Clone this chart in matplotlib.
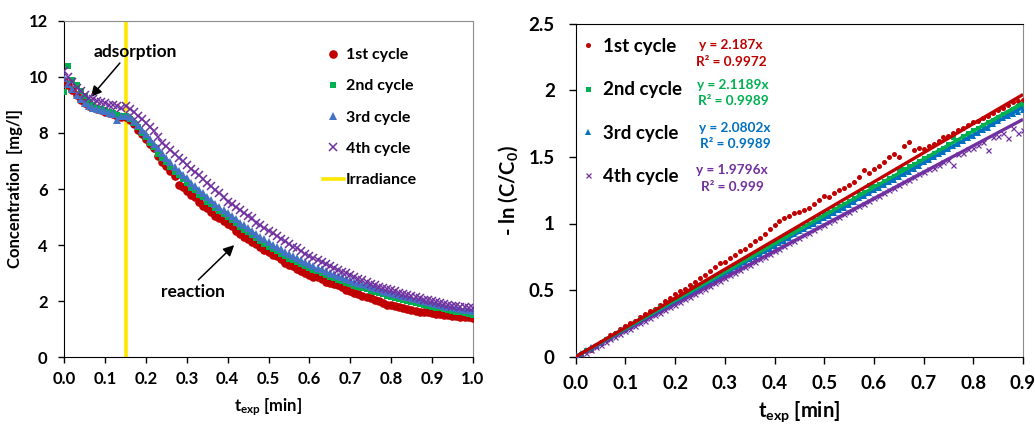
import matplotlib
matplotlib.use('Agg')
import matplotlib.pyplot as plt
from matplotlib.lines import Line2D

plt.rcParams['font.family'] = ['Lato', 'DejaVu Sans']
plt.rcParams['font.weight'] = 'bold'
plt.rcParams['mathtext.fontset'] = 'custom'
plt.rcParams['mathtext.rm'] = 'Lato:bold'
plt.rcParams['mathtext.bf'] = 'Lato:bold'
plt.rcParams['mathtext.it'] = 'Lato:bold'

# ---------------- data ----------------
cycle_labels = ['1st cycle', '2nd cycle', '3rd cycle', '4th cycle']

t_left = [0.00, 0.01, 0.02, 0.03, 0.04, 0.05, 0.06, 0.07, 0.08, 0.09,
          0.10, 0.11, 0.12, 0.13, 0.14, 0.15, 0.16, 0.17, 0.18, 0.19,
          0.20, 0.21, 0.22, 0.23, 0.24, 0.25, 0.26, 0.27, 0.28, 0.29,
          0.30, 0.31, 0.32, 0.33, 0.34, 0.35, 0.36, 0.37, 0.38, 0.39,
          0.40, 0.41, 0.42, 0.43, 0.44, 0.45, 0.46, 0.47, 0.48, 0.49,
          0.50, 0.51, 0.52, 0.53, 0.54, 0.55, 0.56, 0.57, 0.58, 0.59,
          0.60, 0.61, 0.62, 0.63, 0.64, 0.65, 0.66, 0.67, 0.68, 0.69,
          0.70, 0.71, 0.72, 0.73, 0.74, 0.75, 0.76, 0.77, 0.78, 0.79,
          0.80, 0.81, 0.82, 0.83, 0.84, 0.85, 0.86, 0.87, 0.88, 0.89,
          0.90, 0.91, 0.92, 0.93, 0.94, 0.95, 0.96, 0.97, 0.98, 0.99, 1.00]

conc_1st = [9.85, 9.70, 9.52, 9.35, 9.18, 9.05, 8.95, 8.92, 8.84, 8.80,
            8.76, 8.70, 8.66, 8.60, 8.55, 8.55, 8.45, 8.30, 8.12, 7.95,
            7.80, 7.62, 7.45, 7.18, 6.95, 6.82, 6.65, 6.45, 6.15, 6.06,
            5.92, 5.80, 5.72, 5.55, 5.40, 5.32, 5.18, 5.05, 4.96, 4.85,
            4.76, 4.68, 4.52, 4.40, 4.28, 4.22, 4.12, 4.05, 3.95, 3.84,
            3.76, 3.64, 3.60, 3.50, 3.36, 3.30, 3.26, 3.14, 3.08, 3.00,
            2.92, 2.88, 2.86, 2.80, 2.68, 2.66, 2.60, 2.56, 2.50, 2.40,
            2.36, 2.30, 2.26, 2.20, 2.14, 2.10, 2.06, 2.02, 1.94, 1.86,
            1.85, 1.84, 1.78, 1.75, 1.72, 1.68, 1.66, 1.63, 1.62, 1.60,
            1.57, 1.56, 1.54, 1.52, 1.50, 1.48, 1.46, 1.45, 1.43, 1.42, 1.40]

conc_2nd = [9.45, 10.40, 9.90, 9.70, 9.50, 9.30, 9.10, 9.00, 8.90, 8.85,
            8.80, 8.75, 8.70, 8.65, 8.60, 8.60, 8.50, 8.35, 8.20, 8.00,
            7.85, 7.65, 7.50, 7.25, 7.10, 6.95, 6.80, 6.62, 6.50, 6.35,
            6.20, 6.05, 5.95, 5.78, 5.70, 5.55, 5.45, 5.32, 5.20, 5.10,
            5.00, 4.88, 4.78, 4.65, 4.55, 4.45, 4.35, 4.25, 4.15, 4.05,
            3.95, 3.86, 3.78, 3.70, 3.62, 3.52, 3.48, 3.40, 3.32, 3.25,
            3.20, 3.12, 3.06, 3.00, 2.94, 2.88, 2.82, 2.77, 2.72, 2.66,
            2.60, 2.55, 2.50, 2.46, 2.42, 2.37, 2.32, 2.28, 2.24, 2.20,
            2.16, 2.12, 2.08, 2.04, 2.00, 1.96, 1.93, 1.90, 1.86, 1.83,
            1.80, 1.77, 1.74, 1.71, 1.68, 1.65, 1.62, 1.60, 1.57, 1.55, 1.52]

conc_3rd = [9.95, 9.75, 9.55, 9.35, 9.20, 9.05, 8.95, 8.88, 8.85, 8.82,
            8.78, 8.72, 8.68, 8.45, 8.62, 8.60, 8.55, 8.42, 8.28, 8.10,
            7.95, 7.80, 7.62, 7.45, 7.28, 7.10, 6.95, 6.80, 6.65, 6.50,
            6.38, 6.22, 6.10, 5.98, 5.85, 5.72, 5.60, 5.48, 5.36, 5.25,
            5.14, 5.02, 4.92, 4.80, 4.70, 4.60, 4.50, 4.40, 4.30, 4.20,
            4.10, 4.02, 3.93, 3.85, 3.77, 3.69, 3.62, 3.54, 3.47, 3.40,
            3.33, 3.27, 3.20, 3.14, 3.08, 3.02, 2.96, 2.90, 2.85, 2.80,
            2.75, 2.70, 2.65, 2.60, 2.56, 2.51, 2.47, 2.42, 2.38, 2.34,
            2.30, 2.26, 2.22, 2.18, 2.14, 2.10, 2.07, 2.03, 2.00, 1.97,
            1.93, 1.90, 1.87, 1.84, 1.81, 1.78, 1.76, 1.73, 1.70, 1.68, 1.65]

conc_4th = [10.20, 10.00, 9.80, 9.60, 9.50, 9.35, 9.25, 9.20, 9.15, 9.10,
            9.05, 9.00, 9.00, 8.95, 8.90, 8.95, 8.85, 8.75, 8.60, 8.50,
            8.35, 8.20, 8.05, 7.85, 7.65, 7.52, 7.40, 7.25, 7.10, 7.00,
            6.85, 6.70, 6.60, 6.50, 6.35, 6.20, 6.10, 5.95, 5.85, 5.70,
            5.55, 5.45, 5.35, 5.25, 5.15, 5.05, 4.95, 4.80, 4.70, 4.60,
            4.50, 4.42, 4.32, 4.22, 4.15, 4.05, 3.95, 3.88, 3.78, 3.70,
            3.62, 3.55, 3.48, 3.40, 3.32, 3.25, 3.18, 3.12, 3.05, 3.00,
            2.92, 2.86, 2.80, 2.75, 2.70, 2.62, 2.58, 2.52, 2.48, 2.44,
            2.40, 2.35, 2.30, 2.27, 2.22, 2.18, 2.14, 2.10, 2.06, 2.03,
            2.00, 1.96, 1.93, 1.90, 1.87, 1.84, 1.82, 1.80, 1.78, 1.76, 1.74]

irradiance_start = 0.15

t_right = [0.00, 0.01, 0.02, 0.03, 0.04, 0.05, 0.06, 0.07, 0.08, 0.09,
           0.10, 0.11, 0.12, 0.13, 0.14, 0.15, 0.16, 0.17, 0.18, 0.19,
           0.20, 0.21, 0.22, 0.23, 0.24, 0.25, 0.26, 0.27, 0.28, 0.29,
           0.30, 0.31, 0.32, 0.33, 0.34, 0.35, 0.36, 0.37, 0.38, 0.39,
           0.40, 0.41, 0.42, 0.43, 0.44, 0.45, 0.46, 0.47, 0.48, 0.49,
           0.50, 0.51, 0.52, 0.53, 0.54, 0.55, 0.56, 0.57, 0.58, 0.59,
           0.60, 0.61, 0.62, 0.63, 0.64, 0.65, 0.66, 0.67, 0.68, 0.69,
           0.70, 0.71, 0.72, 0.73, 0.74, 0.75, 0.76, 0.77, 0.78, 0.79,
           0.80, 0.81, 0.82, 0.83, 0.84, 0.85, 0.86, 0.87, 0.88, 0.89, 0.90]

lnc_1st = [0.00, 0.02, 0.04, 0.05, 0.09, 0.11, 0.13, 0.16, 0.18, 0.21,
           0.23, 0.25, 0.27, 0.30, 0.32, 0.34, 0.36, 0.39, 0.42, 0.44,
           0.47, 0.49, 0.51, 0.54, 0.56, 0.59, 0.61, 0.64, 0.67, 0.70,
           0.71, 0.74, 0.76, 0.79, 0.81, 0.84, 0.87, 0.89, 0.92, 0.96,
           0.99, 1.02, 1.04, 1.06, 1.08, 1.09, 1.10, 1.12, 1.15, 1.18,
           1.21, 1.20, 1.23, 1.25, 1.27, 1.29, 1.31, 1.35, 1.40, 1.38,
           1.41, 1.43, 1.46, 1.50, 1.52, 1.50, 1.58, 1.61, 1.55, 1.57,
           1.56, 1.58, 1.60, 1.62, 1.65, 1.66, 1.68, 1.70, 1.72, 1.74,
           1.76, 1.77, 1.79, 1.81, 1.83, 1.85, 1.87, 1.89, 1.91, 1.92, 1.93]

lnc_2nd = [0.00, 0.02, 0.05, 0.06, 0.08, 0.10, 0.13, 0.15, 0.17, 0.19,
           0.21, 0.23, 0.26, 0.28, 0.30, 0.32, 0.35, 0.37, 0.38, 0.41,
           0.43, 0.45, 0.47, 0.49, 0.52, 0.54, 0.56, 0.58, 0.60, 0.62,
           0.64, 0.66, 0.68, 0.71, 0.73, 0.75, 0.77, 0.79, 0.81, 0.83,
           0.86, 0.88, 0.90, 0.92, 0.94, 0.96, 0.98, 1.00, 1.03, 1.05,
           1.07, 1.09, 1.11, 1.13, 1.15, 1.17, 1.19, 1.22, 1.24, 1.29,
           1.28, 1.30, 1.32, 1.34, 1.36, 1.41, 1.41, 1.43, 1.45, 1.47,
           1.49, 1.51, 1.53, 1.55, 1.57, 1.60, 1.65, 1.63, 1.66, 1.68,
           1.70, 1.72, 1.74, 1.76, 1.78, 1.80, 1.82, 1.84, 1.86, 1.88, 1.89]

lnc_3rd = [0.01, 0.03, 0.05, 0.07, 0.08, 0.10, 0.13, 0.14, 0.17, 0.19,
           0.21, 0.23, 0.25, 0.27, 0.29, 0.31, 0.33, 0.35, 0.37, 0.39,
           0.42, 0.44, 0.46, 0.48, 0.50, 0.52, 0.54, 0.56, 0.58, 0.60,
           0.62, 0.64, 0.67, 0.69, 0.71, 0.73, 0.75, 0.77, 0.79, 0.81,
           0.83, 0.85, 0.87, 0.89, 0.92, 0.94, 0.96, 0.98, 1.00, 1.02,
           1.04, 1.06, 1.08, 1.10, 1.12, 1.14, 1.16, 1.19, 1.21, 1.23,
           1.25, 1.27, 1.29, 1.31, 1.33, 1.35, 1.37, 1.39, 1.41, 1.43,
           1.46, 1.48, 1.50, 1.52, 1.54, 1.56, 1.58, 1.60, 1.62, 1.64,
           1.66, 1.68, 1.70, 1.72, 1.75, 1.77, 1.79, 1.81, 1.82, 1.84, 1.85]

lnc_4th = [0.00, 0.02, 0.03, 0.05, 0.07, 0.09, 0.11, 0.13, 0.15, 0.17,
           0.19, 0.21, 0.23, 0.25, 0.27, 0.29, 0.31, 0.33, 0.35, 0.37,
           0.39, 0.41, 0.43, 0.45, 0.47, 0.49, 0.51, 0.53, 0.55, 0.57,
           0.59, 0.61, 0.63, 0.65, 0.67, 0.69, 0.71, 0.73, 0.75, 0.77,
           0.79, 0.81, 0.83, 0.85, 0.87, 0.89, 0.91, 0.93, 0.95, 0.97,
           0.99, 1.01, 1.03, 1.05, 1.07, 1.09, 1.11, 1.13, 1.15, 1.17,
           1.19, 1.21, 1.23, 1.25, 1.27, 1.29, 1.31, 1.33, 1.35, 1.37,
           1.39, 1.41, 1.42, 1.44, 1.46, 1.48, 1.44, 1.52, 1.53, 1.56,
           1.57, 1.59, 1.61, 1.55, 1.65, 1.66, 1.68, 1.64, 1.72, 1.68, 1.70]

fit_slopes = [2.187, 2.1189, 2.0802, 1.9796]
fit_r2 = ['0.9972', '0.9989', '0.9989', '0.999']

# ---------------- styles ----------------
col_marker_left = ['#C00000', '#00B050', '#4472C4', '#7030A0']
col_marker_right = ['#C00000', '#00B050', '#0070C0', '#7030A0']
col_line = ['#C00000', '#00B050', '#0070C0', '#7030A0']
markers = ['o', 's', '^', 'x']
ms_left = [6.2, 5.0, 5.6, 5.4]
ms_right = [3.6, 3.6, 3.8, 3.6]
yellow = '#FFE800'
gray = '#8C8C8C'

fig = plt.figure(figsize=(10.35, 4.24), dpi=100)
W, H = 1035.0, 424.0

def px_axes(x0, x1, ytop, ybot):
    return [x0 / W, 1 - ybot / H, (x1 - x0) / W, (ybot - ytop) / H]

ax1 = fig.add_axes(px_axes(64.3, 472.7, 20.7, 357.3))
ax2 = fig.add_axes(px_axes(575.7, 1023.0, 23.7, 356.7))

# ---------------- left panel ----------------
left_series = [conc_1st, conc_2nd, conc_3rd, conc_4th]
ax1.axvline(irradiance_start, color=yellow, lw=2.6, zorder=1)
handles = []
for i, ys in enumerate(left_series):
    if markers[i] == 'x':
        h, = ax1.plot(t_left, ys, linestyle='none', marker='x', ms=ms_left[i],
                      mew=1.1, color=col_marker_left[i], zorder=3 + i)
    else:
        h, = ax1.plot(t_left, ys, linestyle='none', marker=markers[i], ms=ms_left[i],
                      mew=0, color=col_marker_left[i], zorder=3 + i)
    handles.append(h)
handles.append(Line2D([], [], color=yellow, lw=2.6))

ax1.set_xlim(0, 1.0)
ax1.set_ylim(0, 12)
ax1.set_xticks([0.0, 0.1, 0.2, 0.3, 0.4, 0.5, 0.6, 0.7, 0.8, 0.9, 1.0])
ax1.set_xticklabels(['0.0', '0.1', '0.2', '0.3', '0.4', '0.5', '0.6', '0.7', '0.8', '0.9', '1.0'])
ax1.set_yticks([0, 2, 4, 6, 8, 10, 12])
ax1.tick_params(axis='both', direction='out', length=4, width=1, labelsize=12, color='black')
ax1.tick_params(axis='x', pad=6)
ax1.tick_params(axis='y', pad=8)
for s in ['top', 'right']:
    ax1.spines[s].set_color(gray)
for s in ['left', 'bottom']:
    ax1.spines[s].set_color('black')
ax1.set_xlabel(r'$t_{exp}$ [min]', fontsize=12, fontweight='bold')
ax1.set_ylabel('Concentration  [mg/l]', fontsize=12, fontweight='bold')
ax1.xaxis.set_label_coords(0.5, -0.115)
ax1.yaxis.set_label_coords(-0.1, 0.5)

ax1.legend(handles, ['1st cycle', '2nd cycle', '3rd cycle', '4th cycle', 'Irradiance'],
           loc='upper left', bbox_to_anchor=(323 / W, 1 - 48 / H), bbox_transform=fig.transFigure,
           frameon=False, fontsize=11.5, labelspacing=1.07, handlelength=1.3,
           handletextpad=0.15, borderpad=0, borderaxespad=0)

ax1.text(0.173, 10.88, 'adsorption', fontsize=12.5, fontweight='bold', ha='center', va='center')
ax1.annotate('', xy=(0.065, 9.28), xytext=(0.136, 10.49),
             arrowprops=dict(arrowstyle='-|>', color='black', lw=1.1, mutation_scale=16,
                             shrinkA=0, shrinkB=0))
ax1.text(0.316, 2.34, 'reaction', fontsize=12.5, fontweight='bold', ha='center', va='center')
ax1.annotate('', xy=(0.416, 4.0), xytext=(0.328, 2.76),
             arrowprops=dict(arrowstyle='-|>', color='black', lw=1.1, mutation_scale=16,
                             shrinkA=0, shrinkB=0))

# ---------------- right panel ----------------
right_series = [lnc_1st, lnc_2nd, lnc_3rd, lnc_4th]
handles2 = []
for i, ys in enumerate(right_series):
    if markers[i] == 'x':
        h, = ax2.plot(t_right, ys, linestyle='none', marker='x', ms=ms_right[i],
                      mew=0.9, color=col_marker_right[i], zorder=3)
    else:
        h, = ax2.plot(t_right, ys, linestyle='none', marker=markers[i], ms=ms_right[i],
                      mew=0, color=col_marker_right[i], zorder=3)
    handles2.append(h)
x_end = t_right[-1]
for i, k in enumerate(fit_slopes):
    ax2.plot([0, x_end], [0, k * x_end], color=col_line[i], lw=2.4, zorder=5 - i * 0.1,
             solid_capstyle='butt')

ax2.set_xlim(0, 0.9)
ax2.set_ylim(0, 2.5)
ax2.set_xticks([0.0, 0.1, 0.2, 0.3, 0.4, 0.5, 0.6, 0.7, 0.8, 0.9])
ax2.set_xticklabels(['0.0', '0.1', '0.2', '0.3', '0.4', '0.5', '0.6', '0.7', '0.8', '0.9'])
ax2.set_yticks([0, 0.5, 1, 1.5, 2, 2.5])
ax2.set_yticklabels(['0', '0.5', '1', '1.5', '2', '2.5'])
ax2.tick_params(axis='both', direction='out', length=5, width=1, labelsize=13.5, color='black')
ax2.tick_params(axis='x', pad=8)
ax2.tick_params(axis='y', pad=10)
ax2.spines['right'].set_color(gray)
for s in ['top', 'left', 'bottom']:
    ax2.spines[s].set_color('black')
ax2.set_xlabel(r'$t_{exp}$ [min]', fontsize=14.5, fontweight='bold')
ax2.set_ylabel('- ln (C/C$_0$)', fontsize=14.5, fontweight='bold')
ax2.xaxis.set_label_coords(0.5, -0.13)
ax2.yaxis.set_label_coords(-0.125, 0.5)

ax2.legend(handles2, cycle_labels, loc='upper left', bbox_to_anchor=(581 / W, 1 - 38 / H),
           bbox_transform=fig.transFigure, frameon=False, fontsize=13.5, labelspacing=1.4,
           handlelength=0.75, handletextpad=0.4, borderpad=0, borderaxespad=0)

eq_pos = [(0.3125, 2.34, 2.212), (0.3165, 2.04, 1.919), (0.3205, 1.716, 1.596), (0.3145, 1.40, 1.274)]
for i, (xc, ye, yr) in enumerate(eq_pos):
    ax2.text(xc, ye, 'y = %sx' % fit_slopes[i], color=col_line[i], fontsize=9.8,
             fontweight='bold', ha='center', va='center')
    ax2.text(xc, yr, 'R\u00b2 = %s' % fit_r2[i], color=col_line[i], fontsize=9.8,
             fontweight='bold', ha='center', va='center')

fig.savefig('out.png', dpi=100)
